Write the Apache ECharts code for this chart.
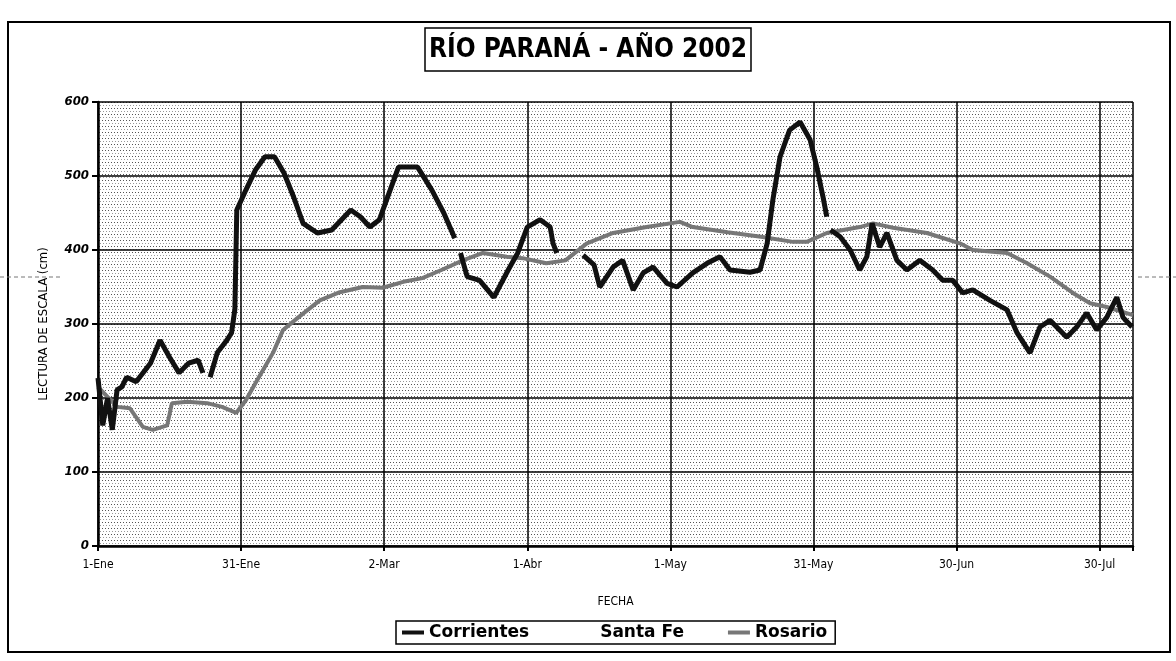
<!DOCTYPE html>
<html>
<head>
<meta charset="utf-8">
<script src="https://cdn.jsdelivr.net/npm/echarts@6/dist/echarts.min.js"></script>
<style>
html,body{margin:0;padding:0;background:#fff;}
#chart{width:1176px;height:661px;}
</style>
</head>
<body>
<div id="chart"></div>
<script>
// ---- data (day 0 = 1-Ene-2002) ----
const tickLabels = ['1-Ene','31-Ene','2-Mar','1-Abr','1-May','31-May','30-Jun','30-Jul'];
const seriesNames = ['Corrientes','Santa Fe','Rosario'];

const corrientesDays = [0,1,2,3,4,5,6,8,11,13,15,17,19,21,22,23,23.5,25,27,28,28.7,29.1,31,33,35,37,39,41,43,46,49,53,55,57,59,63,67,70,72.5,74.8,75.3,76,77.4,80,83,86,88,90,92.7,94.8,95.4,96.2,98,101.7,104,105.2,108,110,112.2,114.3,116.4,119.3,121.4,124.7,127.7,130.4,132.5,136.7,138.8,140.3,141.5,143,145,147.2,149.3,150.7,152,152.8,153.2,153.6,155.6,157.7,159.7,161.2,162.3,163.9,165.4,167.5,169.6,172.3,175,177.1,179.2,181.3,183.4,187,190.6,192.7,195.4,197.5,199.6,203.1,205.2,207.3,209.4,211.5,213.6,214.9,216.8];
const corrientesVals = [227,163,200,157,211,215,228,222,247,278,255,234,247,251,234,null,228,261,278,288,320,454,481,508,526,526,504,472,436,423,427,454,445,431,441,512,512,481,450,416,null,396,364,359,336,373,396,431,441,431,409,396,null,393,380,350,377,386,346,369,377,355,350,369,382,391,373,370,373,409,468,526,562,573,549,512,472,445,null,427,418,400,373,391,436,404,423,386,373,386,373,359,359,342,346,332,319,288,261,296,305,282,296,315,292,309,336,309,296];

const santaFeDays = [];
const santaFeVals = [];

const rosarioDays = [0,4,6.7,9.4,11.5,14.5,15.5,18.7,22.9,26,29,31,33,36.7,38.8,42,46.5,50.7,55.5,59.7,64,68,72,76.5,80.7,85.7,89,94,98,102.5,108,115,122,124.7,132,139,145.7,148.6,152.8,159.7,162.5,166.7,173.8,180.7,183.4,190.6,194.8,199.6,204.4,208,211.5,217];
const rosarioVals = [215,188,186,161,157,163,193,195,193,188,180,197,220,261,292,309,332,343,350,349,357,362,373,386,396,391,389,382,386,409,423,431,438,431,424,418,411,411,423,431,436,430,423,409,400,396,382,364,342,328,323,312];

function pairs(days, vals){
  return days.map((d,i)=>[d, vals[i]===null ? '-' : vals[i]]);
}

// dotted pattern for plot area (scanned Excel fill)
const pc = document.createElement('canvas');
pc.width = 3; pc.height = 6;
const pctx = pc.getContext('2d');
pctx.fillStyle = '#ffffff'; pctx.fillRect(0,0,3,6);
pctx.fillStyle = '#555555'; pctx.fillRect(0,0,1,1);
pctx.fillStyle = '#9a9a9a'; pctx.fillRect(1,3,1,1);

const narrow = "'Liberation Sans Narrow','DejaVu Sans Condensed',Arial,sans-serif";
const chart = echarts.init(document.getElementById('chart'), null, {renderer:'canvas'});

chart.setOption({
  animation:false,
  backgroundColor:'#ffffff',
  title:{
    text:'RÍO PARANÁ - AÑO 2002',
    left:'center', top:28,
    padding:[9,4,8,4],
    borderColor:'#000', borderWidth:1.5,
    textStyle:{fontFamily:narrow, fontWeight:'bold', fontSize:26, color:'#000'}
  },
  legend:{
    data:seriesNames,
    left:396, top:621,
    padding:[3,8,3,6],
    itemGap:44,
    itemWidth:22, itemHeight:4,
    borderColor:'#000', borderWidth:1.5,
    icon:'rect',
    textStyle:{fontFamily:"'DejaVu Sans',sans-serif", fontWeight:'bold', fontSize:17, color:'#000'}
  },
  graphic:[
    {type:'rect', shape:{x:8,y:22,width:1162,height:630}, style:{fill:'none', stroke:'#000', lineWidth:2}, silent:true},
    {type:'line', shape:{x1:0,y1:277,x2:60,y2:277}, style:{stroke:'#777', lineWidth:1, lineDash:[4,3]}, silent:true},
    {type:'line', shape:{x1:1138,y1:277,x2:1176,y2:277}, style:{stroke:'#777', lineWidth:1, lineDash:[4,3]}, silent:true}
  ],
  grid:{
    left:98, right:43, top:102, bottom:115,
    show:true,
    backgroundColor:{image:pc, repeat:'repeat'},
    borderWidth:0
  },
  xAxis:{
    type:'value', min:0, max:217, interval:30,
    name:'FECHA', nameLocation:'middle', nameGap:50,
    nameTextStyle:{fontFamily:narrow, fontSize:12, color:'#000'},
    axisLine:{show:true, onZero:false, lineStyle:{color:'#000', width:2.5}},
    axisTick:{show:true, length:5, lineStyle:{color:'#000', width:2}},
    axisLabel:{margin:13, fontFamily:narrow, fontSize:12, color:'#000',
      formatter:(v)=>{ const k=v/30; return Number.isInteger(k) && tickLabels[k] ? tickLabels[k] : ''; }},
    splitLine:{show:true, lineStyle:{color:'#000', width:1.5}}
  },
  yAxis:{
    type:'value', min:0, max:600, interval:100,
    name:'LECTURA DE ESCALA (cm)', nameLocation:'middle', nameGap:48,
    nameTextStyle:{fontFamily:narrow, fontSize:13, color:'#000'},
    axisLine:{show:true, lineStyle:{color:'#000', width:2.5}},
    axisTick:{show:true, length:6, lineStyle:{color:'#000', width:2}},
    axisLabel:{margin:9, fontFamily:narrow, fontWeight:'bold', fontStyle:'italic', fontSize:13, color:'#000'},
    splitLine:{show:true, lineStyle:{color:'#000', width:1.5}}
  },
  series:[
    {name:'Corrientes', type:'line', data:pairs(corrientesDays, corrientesVals),
     showSymbol:false, connectNulls:false, z:4, color:'#111',
     lineStyle:{color:'#111', width:5}},
    {name:'Santa Fe', type:'line', data:pairs(santaFeDays, santaFeVals),
     showSymbol:false, z:3, color:'#ffffff',
     lineStyle:{color:'#ffffff', width:3}},
    {name:'Rosario', type:'line', data:pairs(rosarioDays, rosarioVals),
     showSymbol:false, z:3, color:'#777777',
     lineStyle:{color:'#777777', width:4}}
  ]
});
</script>
</body>
</html>
